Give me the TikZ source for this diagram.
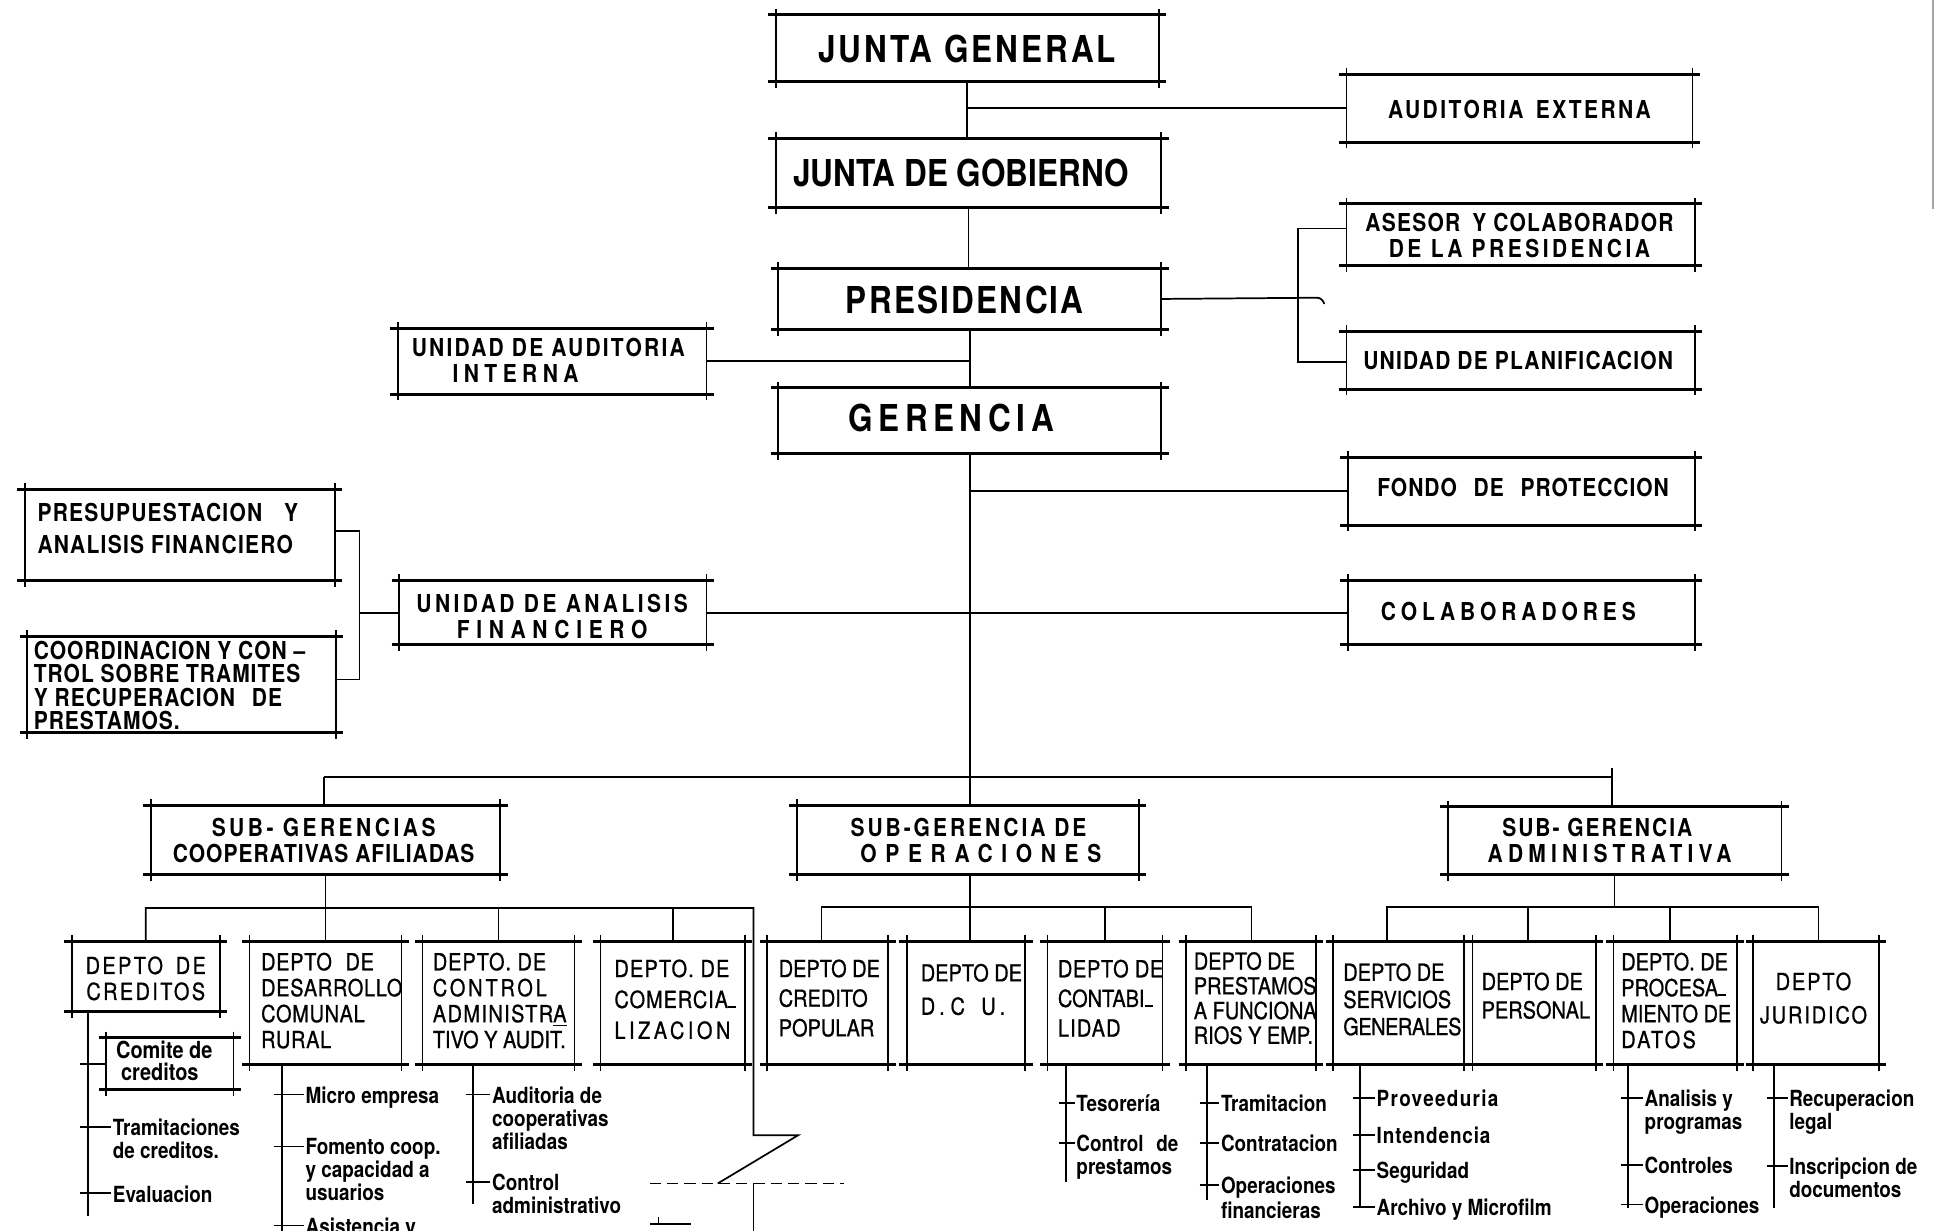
\documentclass[tikz,border=0pt]{standalone}
\usepackage{fontspec}
\setmainfont{TeX Gyre Heros}
\newfontfamily\cn{TeX Gyre Heros}[FakeStretch=0.85]
\newfontfamily\cnm{TeX Gyre Heros}[FakeStretch=0.85, FakeBold=0.8]
\usetikzlibrary{fit}
\newcommand\lsp[1]{\addfontfeature{LetterSpace=#1}}
\newcommand\hy{\rule[0pt]{0.35em}{0.08em}}

\tikzset{
  box/.style={inner sep=0pt, outer sep=0pt, draw=none},
  hedge/.style={line width=1.2pt},
  vedge/.style={line width=0.7pt},
  conn/.style={line width=0.7pt},
  brk/.style={line width=0.7pt, dash pattern=on 4.5pt off 2.5pt},
  tbig/.style={font=\cn\bfseries\fontsize{15}{17}\selectfont, inner sep=0pt},
  tmid/.style={font=\cn\bfseries\fontsize{10}{10.5}\selectfont, inner sep=0pt, align=center},
  tdep/.style={font=\cnm\fontsize{9.5}{10.5}\selectfont, inner sep=0pt, align=left, anchor=west},
  titem/.style={font=\cn\bfseries\fontsize{9}{9.3}\selectfont, inner sep=0pt, align=left, anchor=north west},
}

% drafting-style frame: edges run past the corners
\newcommand\unitframe[1]{%
  \draw[hedge] ([xshift=-3pt]#1.north west) -- ([xshift=3pt]#1.north east);
  \draw[hedge] ([xshift=-3pt]#1.south west) -- ([xshift=3pt]#1.south east);
  \draw[vedge] ([yshift=2.5pt]#1.north west) -- ([yshift=-2.5pt]#1.south west);
  \draw[vedge] ([yshift=2.5pt]#1.north east) -- ([yshift=-2.5pt]#1.south east);}

% one entry of a department list: stub from the trunk and its text
\newcommand\itm[5]{%
  \coordinate (#1) at (#2,#3);
  \draw[conn] ([xshift=-3pt]#1) -- ([xshift=#4*0.5pt]#1);
  \node[titem] (#1t) at ([xshift=#4*0.5pt+0.5pt, yshift=3.4pt]#1) {#5};}

\begin{document}
\begin{tikzpicture}[x=0.5pt, y=-0.5pt]
\useasboundingbox (0,0) rectangle (1568,996);
\fill[white] (0,0) rectangle (1568,996);
\clip (0,0) rectangle (1568,996);

% ---------- upper levels ----------
\node[box, fit={(628,12)(938,66)}] (jg) {};
\node[box, fit={(1090,60)(1370,115)}] (ae) {};
\node[box, fit={(628,112)(940,168)}] (jgob) {};
\node[box, fit={(1090,165)(1372,215)}] (ase) {};
\node[box, fit={(630,217)(940,267)}] (pres) {};
\node[box, fit={(1090,268)(1372,315)}] (plan) {};
\node[box, fit={(322,266)(572,319)}] (uai) {};
\node[box, fit={(630,314)(940,367)}] (ger) {};
\node[box, fit={(1091,370)(1372,425)}] (fp) {};
\node[box, fit={(1091,470)(1372,522)}] (col) {};
\node[box, fit={(323,470)(572,522)}] (uaf) {};
\node[box, fit={(20,396)(271,470)}] (psp) {};
\node[box, fit={(22,515)(272,593)}] (ccr) {};

\node[tbig] (jgt) at (783,40) {\lsp{8}JUNTA GENERAL};
\node[tbig] (jgobt) at (778,140) {JUNTA DE GOBIERNO};
\node[tbig] (prest) at (781,243) {\lsp{6}PRESIDENCIA};
\node[tbig] (gert) at (770,338) {\lsp{15}GERENCIA};

\node[tmid] (aet) at (1230,89) {\lsp{10}AUDITORIA\hspace{5pt}EXTERNA};
\node[tmid] (aset) at (1230,191) {\lsp{5}ASESOR\hspace{2pt} Y COLABORADOR\\\lsp{14}DE LA PRESIDENCIA};
\node[tmid] (plant) at (1229,292) {\lsp{5}UNIDAD DE PLANIFICACION};
\node[tmid] (fpt) at (1233,395) {\lsp{4}FONDO\hspace{4pt} DE\hspace{4pt} PROTECCION};
\node[tmid] (colt) at (1221,495) {\lsp{20}COLABORADORES};
\node[tmid, align=left, anchor=west] (uait) at (333,292)
  {\lsp{9}UNIDAD DE AUDITORIA\\\hspace*{16.5pt}{\lsp{22}INTERNA}};
\node[tmid] (uaft) at (447,499) {\lsp{14}UNIDAD DE ANALISIS\\\lsp{27}FINANCIERO};
\node[tmid, align=left, anchor=west, font=\cn\bfseries\fontsize{10}{13}\selectfont] (pspt) at (30,428)
  {\lsp{5}PRESUPUESTACION\hspace{6pt} Y\\\lsp{5}ANALISIS FINANCIERO};
\node[tmid, align=left, anchor=west, font=\cn\bfseries\fontsize{10}{9.5}\selectfont] (ccrt) at (27,555)
  {\lsp{4}COORDINACION Y CON –\\\lsp{4}TROL SOBRE TRAMITES\\\lsp{4}Y RECUPERACION\hspace{4pt} DE\\\lsp{4}PRESTAMOS.};

% spine and side units
\draw[conn] (jg.south) -- (jgob.north -| jg.south);
\draw[conn] (ae.west) -- (ae.west -| jg.south);
\draw[conn] (jgob.south) -- (pres.north -| jgob.south);
\draw[conn] (pres.south) -- (ger.north -| pres.south);
\draw[conn] (uai.east) -- (uai.east -| pres.south);
\coordinate (phook) at (1066,241);
\coordinate (pend) at (1072,246);
\draw[conn] (pres.east) -- (phook) .. controls (1069,241) and (1071,243) .. (pend);
\coordinate (bka) at (1051,185);
\coordinate (bkb) at (1051,293);
\draw[conn] (bka -| ase.west) -- (bka) -- (bkb) -- (bkb -| plan.west);
\coordinate (busc) at (785,629);
\draw[conn] (ger.south) -- (busc);
\draw[conn] (fp.west) -- (fp.west -| ger.south);
\draw[conn] (uaf.east) -- (col.west);
\coordinate (fb1) at (291,430);
\coordinate (fb2) at (291,550);
\draw[conn] (fb1 -| psp.east) -- (fb1) -- (fb2) -- (fb2 -| ccr.east);
\draw[conn] (uaf.west) -- (uaf.west -| fb1);

% ---------- sub-managements ----------
\node[box, fit={(122,652)(405,708)}] (sg1) {};
\node[box, fit={(645,652)(922,708)}] (sg2) {};
\node[box, fit={(1172,653)(1442,708)}] (sg3) {};
\node[tmid] (sg1t) at (262,680) {\lsp{14}SUB- GERENCIAS\\\lsp{4}COOPERATIVAS AFILIADAS};
\node[tmid] (sg2t) at (784,680) {\lsp{12}SUB-GERENCIA DE\\\hspace*{10pt}\lsp{35}OPERACIONES};
\node[tmid] (sg3t) at (1303,680) {\hspace*{-10pt}\lsp{8}SUB- GERENCIA\\\lsp{21}ADMINISTRATIVA};

\coordinate (bl) at (262,629);
\coordinate (br) at (1305,629);
\draw[conn] (bl) -- (br);
\draw[conn] (bl) -- (sg1.north -| bl);
\draw[conn] (busc) -- (busc |- sg2.north);
\draw[conn] (br) -- (br |- sg3.north);
\draw[conn] (br) -- ++(0,-7);

% ---------- departments ----------
\node[box, fit={(58,762)(178,819)}] (d1) {};
\node[box, fit={(202,762)(325,862)}] (d2) {};
\node[box, fit={(342,762)(465,862)}] (d3) {};
\node[box, fit={(486,762)(603,862)}] (d4) {};
\node[box, fit={(621,762)(719,862)}] (d5) {};
\node[box, fit={(734,762)(830,862)}] (d6) {};
\node[box, fit={(848,762)(941,862)}] (d7) {};
\node[box, fit={(960,762)(1065,862)}] (d8) {};
\node[box, fit={(1079,762)(1185,862)}] (d9) {};
\node[box, fit={(1192,762)(1292,862)}] (d10) {};
\node[box, fit={(1306,762)(1406,862)}] (d11) {};
\node[box, fit={(1419,762)(1521,862)}] (d12) {};
\node[box, fit={(86,840)(189,882)}] (com) {};

\node[tdep, anchor=center, align=center] (d1t) at (118,792) {\lsp{10}DEPTO\hspace{2pt} DE\\\lsp{10}CREDITOS};
\node[tdep] (d2t) at (211,810) {\lsp{3}DEPTO\hspace{3pt} DE\\\lsp{3}DESARROLLO\\\lsp{3}COMUNAL\\\lsp{3}RURAL};
\node[tdep] (d3t) at (350,810) {\lsp{4}DEPTO. DE\\\lsp{12}CONTROL\\\lsp{6}ADMINISTR\underline{A}\\TIVO Y AUDIT.};
\node[tdep, font=\cnm\fontsize{9.5}{12.5}\selectfont] (d4t) at (497,809) {\lsp{5}DEPTO. DE\\\lsp{4}COMERCIA\hy\\\lsp{15}LIZACION};
\node[tdep, font=\cnm\fontsize{9.5}{12}\selectfont] (d5t) at (630,808) {DEPTO DE\\CREDITO\\POPULAR};
\node[tdep, font=\cnm\fontsize{9.5}{13.5}\selectfont] (d6t) at (745,801) {DEPTO DE\\\lsp{25}D\,.C\hspace{2pt} U\,.};
\node[tdep, font=\cnm\fontsize{9.5}{12}\selectfont] (d7t) at (856,808) {\lsp{3}DEPTO DE\\CONTABI\hy\\\lsp{5}LIDAD};
\node[tdep, font=\cnm\fontsize{9.5}{10}\selectfont] (d8t) at (966,808) {DEPTO DE\\PRESTAMOS\\A FUNCIONA\\RIOS Y EMP.};
\node[tdep, font=\cnm\fontsize{9.5}{11}\selectfont] (d9t) at (1087,809) {DEPTO DE\\SERVICIOS\\\lsp{-2}GENERALES};
\node[tdep, font=\cnm\fontsize{9.5}{11.5}\selectfont] (d10t) at (1199,806) {DEPTO DE\\PERSONAL};
\node[tdep] (d11t) at (1312,810) {DEPTO. DE\\PROCESA\hy\\MIENTO DE\\\lsp{10}DATOS};
\node[tdep, anchor=center, align=center, font=\cnm\fontsize{9.5}{13.5}\selectfont] (d12t) at (1468,808) {\lsp{8}DEPTO\\\lsp{8}JURIDICO};
\node[titem, anchor=center, align=left, font=\cn\bfseries\fontsize{9.5}{8.8}\selectfont] (comt) at (133,859) {Comite de\\\hspace*{2pt}creditos};

% department buses
\coordinate (b1a) at (118,735);
\coordinate (b1z) at (610,735);
\coordinate (z1) at (610,919);
\coordinate (z2) at (646,919);
\coordinate (z3) at (581,958);
\draw[conn] (sg1.south) -- (d2.north);
\draw[conn] (b1a |- d1.north) -- (b1a) -- (b1z) -- (z1) -- (z2) -- (z3);
\draw[conn] (d3.north |- b1a) -- (d3.north);
\draw[conn] (d4.north |- b1a) -- (d4.north);
\coordinate (zd1) at (526,958);
\coordinate (zd2) at (683,958);
\draw[brk] (zd1) -- (zd2);
\coordinate (z4) at (610,958);
\coordinate (z5) at (610,1000);
\draw[conn] (z4) -- (z5);
\coordinate (mk1) at (526,991);
\coordinate (mk2) at (559,991);
\coordinate (mk3) at (533,985);
\draw[conn] (mk1) -- (mk2);
\draw[conn] (mk3) -- (mk3 |- mk1);

\coordinate (b2a) at (665,734);
\coordinate (b2z) at (1013,734);
\draw[conn] (b2a |- d5.north) -- (b2a) -- (b2z) -- (b2z |- d8.north);
\draw[conn] (busc |- sg2.south) -- (busc |- d6.north);
\draw[conn] (d7.north |- b2a) -- (d7.north);

\coordinate (b3a) at (1123,734);
\coordinate (b3z) at (1472,734);
\coordinate (b3p) at (1237,734);
\coordinate (b3q) at (1352,734);
\draw[conn] (b3a |- d9.north) -- (b3a) -- (b3z) -- (b3z |- d12.north);
\draw[conn] (sg3.south) -- (sg3.south |- b3a);
\draw[conn] (b3p) -- (b3p |- d10.north);
\draw[conn] (b3q) -- (b3q |- d11.north);

% frames of all units
\foreach \b in {jg,ae,jgob,ase,pres,plan,uai,ger,fp,col,uaf,psp,ccr,sg1,sg2,sg3,
                d1,d2,d3,d4,d5,d6,d7,d8,d9,d10,d11,d12,com}
  {\unitframe{\b}}

% ---------- department lists ----------
\coordinate (va1) at (71,984);
\coordinate (va2) at (228,1000);
\coordinate (va3) at (383,975);
\coordinate (va7) at (863,957);
\coordinate (va8) at (977,971);
\coordinate (va9) at (1101,978);
\coordinate (va11) at (1318,978);
\coordinate (va12) at (1436,978);
\draw[conn] (d1.south -| va1) -- (va1);
\draw[conn] (d2.south -| va2) -- (va2);
\draw[conn] (d3.south -| va3) -- (va3);
\draw[conn] (d7.south -| va7) -- (va7);
\draw[conn] (d8.south -| va8) -- (va8);
\draw[conn] (d9.south -| va9) -- (va9);
\draw[conn] (d11.south -| va11) -- (va11);
\draw[conn] (d12.south -| va12) -- (va12);
\draw[conn] ([xshift=-3pt]va1 |- com.west) -- (com.west);

\itm{c2}{71}{912}{19}{Tramitaciones\\de creditos.}
\itm{c3}{71}{966}{19}{Evaluacion}
\itm{r1}{228}{886}{18}{Micro empresa}
\itm{r2}{228}{928}{18}{Fomento coop.\\y capacidad a\\usuarios}
\itm{r3}{228}{992}{18}{Asistencia y}
\itm{a1}{383}{886}{14}{Auditoria de\\cooperativas\\afiliadas}
\itm{a2}{383}{957}{14}{Control\\administrativo}
\itm{t1}{863}{893}{7}{Tesorería}
\itm{t2}{863}{925}{7}{Control\hspace{3pt} de\\prestamos}
\itm{p1}{977}{893}{10}{Tramitacion}
\itm{p2}{977}{925}{10}{Contratacion}
\itm{p3}{977}{959}{10}{Operaciones\\[1pt]financieras}
\itm{g1}{1101}{889}{12}{\lsp{6}Proveeduria}
\itm{g2}{1101}{919}{12}{\lsp{4}Intendencia}
\itm{g3}{1101}{947}{12}{Seguridad}
\itm{g4}{1101}{977}{12}{Archivo y Microfilm}
\itm{m1}{1318}{889}{12}{Analisis y\\programas}
\itm{m2}{1318}{943}{12}{Controles}
\itm{m3}{1318}{975}{12}{Operaciones}
\itm{j1}{1436}{889}{11}{Recuperacion\\legal}
\itm{j2}{1436}{944}{11}{Inscripcion de\\documentos}

% scanner edge at the top right
\draw[black!35, line width=0.8pt] (1565,0) -- (1565,169);
\end{tikzpicture}
\end{document}
